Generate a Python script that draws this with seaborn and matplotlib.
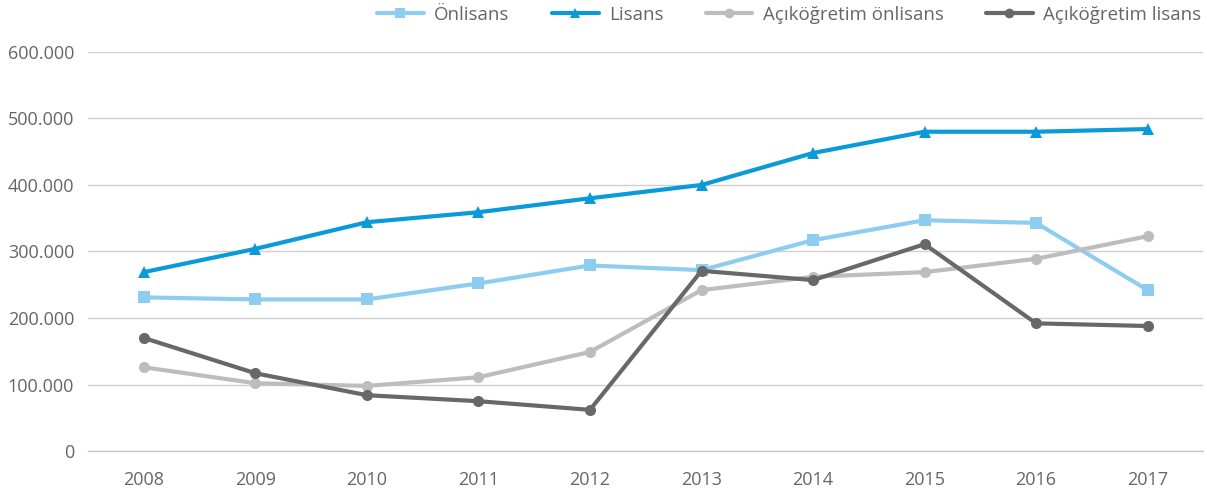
# recreating the enrollment lines chart
import pandas as pd
import numpy as np
import matplotlib.pyplot as plt
import seaborn as sns
from matplotlib.ticker import FuncFormatter, FixedLocator

sns.set_theme(style='white')
plt.rcParams['font.family'] = ['Open Sans', 'DejaVu Sans']

# data
years = ['2008', '2009', '2010', '2011', '2012', '2013', '2014', '2015', '2016', '2017']
onlisans = [231000, 228000, 228000, 252000, 279000, 272000, 317000, 347000, 343000, 242000]
lisans = [269000, 304000, 344000, 359000, 380000, 400000, 448000, 480000, 480000, 484000]
acik_onlisans = [126000, 102000, 98000, 111000, 149000, 242000, 262000, 269000, 289000, 323000]
acik_lisans = [170000, 117000, 84000, 75000, 62000, 271000, 257000, 311000, 192000, 188000]
series_names = ['Önlisans', 'Lisans', 'Açıköğretim önlisans', 'Açıköğretim lisans']

df = pd.DataFrame({'year': years, 'Önlisans': onlisans, 'Lisans': lisans,
                   'Açıköğretim önlisans': acik_onlisans, 'Açıköğretim lisans': acik_lisans})
df['pos'] = range(len(years))
long = df.melt(id_vars=['year', 'pos'], value_vars=series_names, var_name='seri', value_name='deger')

colors = {'Önlisans': '#8ecdf0', 'Lisans': '#0a9ad9',
          'Açıköğretim önlisans': '#bdbdbf', 'Açıköğretim lisans': '#68686b'}
markers = {'Önlisans': 's', 'Lisans': '^', 'Açıköğretim önlisans': 'o', 'Açıköğretim lisans': 'o'}

fig, ax = plt.subplots(figsize=(12.07, 4.99), dpi=100)
fig.subplots_adjust(left=0.073, right=0.997, bottom=0.096, top=0.896)

sns.lineplot(data=long, x='pos', y='deger', hue='seri', style='seri', hue_order=series_names,
             style_order=series_names, palette=colors, markers=markers, dashes=False,
             linewidth=3, markersize=8, markeredgewidth=0, ax=ax)

ax.set_xlim(-0.5, len(years) - 0.5)
ax.set_ylim(0, 600000)
ax.set_yticks(np.arange(0, 600001, 100000))
ax.yaxis.set_major_formatter(FuncFormatter(lambda v, p: '0' if v == 0 else f'{int(v):,}'.replace(',', '.')))
ax.grid(axis='y', color='#d0d0d0', linewidth=1)
ax.set_axisbelow(True)

ax.set_xticks(range(len(years)))
ax.set_xticklabels(years)
ax.xaxis.set_minor_locator(FixedLocator(np.arange(-0.5, len(years), 1)))
ax.tick_params(axis='x', which='major', length=0, pad=14, labelsize=13, labelcolor='#666666')
ax.tick_params(axis='x', which='minor', length=10, width=1, color='#c8c8c8', direction='out')
ax.tick_params(axis='y', length=0, pad=10, labelsize=13, labelcolor='#666666')

for s in ['top', 'right', 'left']:
    ax.spines[s].set_visible(False)
ax.spines['bottom'].set_color('#c8c8c8')
ax.spines['bottom'].set_linewidth(1)

ax.set_xlabel('')
ax.set_ylabel('')

handles, labels = ax.get_legend_handles_labels()
for h in handles:
    h.set_markersize(7)
leg = ax.legend(handles, labels, loc='center right', bbox_to_anchor=(0.998, 1.093), ncol=4,
                frameon=False, fontsize=13.5, handlelength=2.5, columnspacing=2.25,
                handletextpad=0.55, borderaxespad=0, borderpad=0)
for t in leg.get_texts():
    t.set_color('#666666')

fig.savefig('out.png', dpi=100)
